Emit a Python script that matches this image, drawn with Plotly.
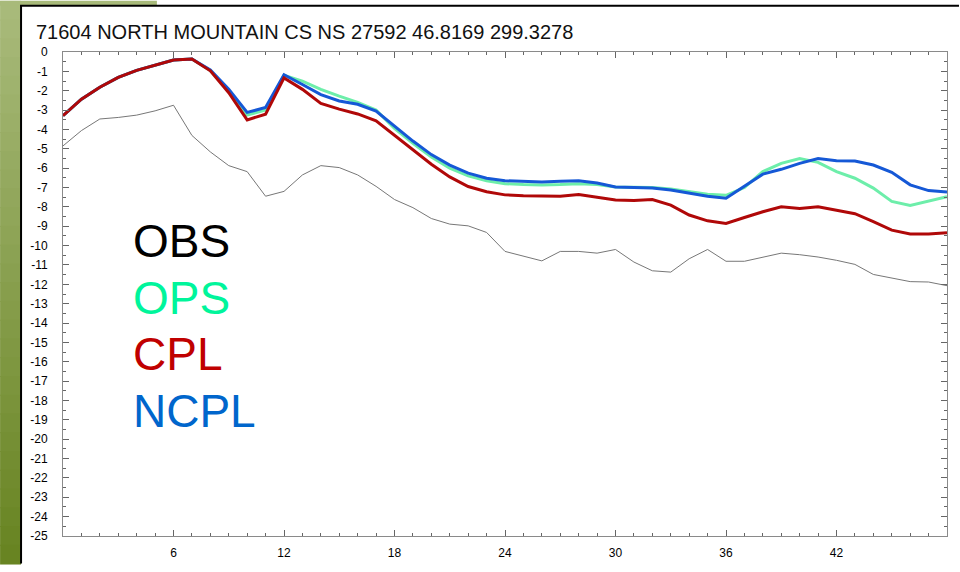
import plotly.graph_objects as go

# ---------------- data ----------------
hours = list(range(0, 49))

obs = [-4.85, -4.06, -3.46, -3.38, -3.26, -3.04, -2.75, -4.31, -5.16, -5.87,
       -6.18, -7.45, -7.20, -6.35, -5.87, -5.97, -6.35, -6.94, -7.62, -8.04,
       -8.60, -8.89, -8.98, -9.32, -10.30, -10.56, -10.79, -10.30, -10.30, -10.39,
       -10.20, -10.85, -11.30, -11.37, -10.68, -10.20, -10.81, -10.81, -10.59, -10.39,
       -10.47, -10.59, -10.76, -10.97, -11.49, -11.69, -11.86, -11.88, -12.07]

ops = [-3.29, -2.44, -1.82, -1.31, -0.95, -0.66, -0.41, -0.36, -0.95, -2.00,
       -3.25, -3.00, -1.20, -1.50, -1.93, -2.28, -2.60, -3.00, -3.95, -4.72,
       -5.42, -6.00, -6.40, -6.65, -6.80, -6.85, -6.87, -6.85, -6.80, -6.85,
       -6.97, -6.98, -7.00, -7.08, -7.20, -7.35, -7.40, -7.00, -6.18, -5.75,
       -5.50, -5.70, -6.18, -6.52, -7.03, -7.72, -7.93, -7.70, -7.48]

cpl = [-3.29, -2.44, -1.82, -1.31, -0.95, -0.66, -0.41, -0.36, -0.97, -2.10,
       -3.51, -3.21, -1.34, -1.93, -2.66, -2.95, -3.20, -3.55, -4.30, -5.02,
       -5.80, -6.45, -6.95, -7.22, -7.38, -7.42, -7.45, -7.45, -7.36, -7.50,
       -7.65, -7.67, -7.62, -7.91, -8.42, -8.72, -8.86, -8.55, -8.25, -8.00,
       -8.08, -8.00, -8.18, -8.35, -8.76, -9.20, -9.40, -9.40, -9.33]

ncpl = [-3.29, -2.44, -1.82, -1.31, -0.95, -0.66, -0.41, -0.36, -0.93, -1.93,
        -3.12, -2.87, -1.17, -1.68, -2.20, -2.53, -2.70, -3.05, -3.85, -4.60,
        -5.30, -5.84, -6.26, -6.52, -6.65, -6.70, -6.72, -6.68, -6.65, -6.77,
        -6.97, -7.00, -7.03, -7.13, -7.28, -7.45, -7.55, -6.94, -6.31, -6.06,
        -5.75, -5.50, -5.62, -5.63, -5.84, -6.21, -6.86, -7.16, -7.23]

series_names = ["OBS", "OPS", "CPL", "NCPL"]
x_tick_vals = [6, 12, 18, 24, 30, 36, 42]
y_tick_vals = list(range(0, -26, -1))
y_tick_text = [str(v) if v == 0 else "-" + str(-v) for v in y_tick_vals]
title_text = "71604 NORTH MOUNTAIN CS NS 27592 46.8169 299.3278"

# ---------------- layout constants ----------------
W, H = 960, 572
ML, MR, MT, MB = 63, 12, 52, 28
PW, PH = W - ML - MR, H - MT - MB
FONT = "Liberation Sans, Arial, Helvetica, sans-serif"


def px_x(p):
    return (p - ML) / PW


def px_y(p):
    return (H - MB - p) / PH


colors = {"OBS": "#777777", "OPS": "#6DEEAA", "CPL": "#B00808", "NCPL": "#1558D6"}
text_colors = {"OBS": "#000000", "OPS": "#00F59B", "CPL": "#C00000", "NCPL": "#0066CC"}
widths = {"OBS": 1, "OPS": 3, "CPL": 3, "NCPL": 3}
values = {"OBS": obs, "OPS": ops, "CPL": cpl, "NCPL": ncpl}

fig = go.Figure()
for name in ["OBS", "OPS", "NCPL", "CPL"]:
    fig.add_trace(go.Scatter(
        x=hours, y=values[name], mode="lines", name=name,
        line=dict(color=colors[name], width=widths[name]),
        showlegend=False, hoverinfo="x+y+name"))

# ---------------- background decoration (slide) ----------------
shapes = []
n_bands = 30
top_rgb = (168, 186, 122)
bot_rgb = (104, 132, 34)
for i in range(n_bands):
    t = i / (n_bands - 1)
    r = round(top_rgb[0] + (bot_rgb[0] - top_rgb[0]) * t)
    g = round(top_rgb[1] + (bot_rgb[1] - top_rgb[1]) * t)
    b = round(top_rgb[2] + (bot_rgb[2] - top_rgb[2]) * t)
    y0p = H * i / n_bands
    y1p = H * (i + 1) / n_bands + 1
    shapes.append(dict(type="rect", xref="paper", yref="paper", layer="below",
                       x0=px_x(0), x1=px_x(21), y0=px_y(y1p), y1=px_y(y0p),
                       line=dict(width=0), fillcolor=f"rgb({r},{g},{b})"))
shapes.append(dict(type="rect", xref="paper", yref="paper", layer="below",
                   x0=px_x(0), x1=px_x(157), y0=px_y(5), y1=px_y(0),
                   line=dict(width=0), fillcolor="rgb(168,186,122)"))
shapes.append(dict(type="line", xref="paper", yref="paper",
                   x0=px_x(21), x1=px_x(21), y0=px_y(H), y1=px_y(5),
                   line=dict(color="black", width=2)))
shapes.append(dict(type="line", xref="paper", yref="paper",
                   x0=px_x(20), x1=px_x(W), y0=px_y(5), y1=px_y(5),
                   line=dict(color="black", width=2)))

# ---------------- legend as coloured words ----------------
annotations = []
leg_y = {"OBS": 244, "OPS": 302, "CPL": 359, "NCPL": 417}
for name in series_names:
    annotations.append(dict(
        text=name, xref="paper", yref="paper", x=px_x(131), y=px_y(leg_y[name]),
        xanchor="left", yanchor="middle", showarrow=False,
        font=dict(family=FONT, size=46, color=text_colors[name])))

axis_col = "#8a8a8a"
fig.update_layout(
    width=W, height=H,
    margin=dict(l=ML, r=MR, t=MT, b=MB, pad=0),
    paper_bgcolor="white", plot_bgcolor="white",
    font=dict(family=FONT, color="black"),
    title=dict(text=title_text, x=36 / W, xanchor="left", y=1 - 32 / H, yanchor="middle",
               font=dict(family=FONT, size=20, color="#111111")),
    shapes=shapes, annotations=annotations,
    xaxis=dict(range=[0, 48], tickmode="array", tickvals=x_tick_vals,
               ticks="inside", ticklen=6, tickcolor="#666666", tickwidth=1,
               showline=True, linecolor=axis_col, linewidth=1, mirror="ticks",
               showgrid=False, zeroline=False,
               tickfont=dict(family=FONT, size=12, color="black"),
               ticklabelstandoff=6,
               minor=dict(dtick=1, tick0=0, ticks="inside", ticklen=3,
                          tickcolor="#666666", showgrid=False)),
    yaxis=dict(range=[-25, 0], tickmode="array", tickvals=y_tick_vals, ticktext=y_tick_text,
               ticks="inside", ticklen=6, tickcolor="#666666", tickwidth=1,
               showline=True, linecolor=axis_col, linewidth=1, mirror="ticks",
               showgrid=False, zeroline=False,
               tickfont=dict(family=FONT, size=12, color="black"),
               ticklabelstandoff=12,
               minor=dict(dtick=0.5, tick0=0, ticks="inside", ticklen=3,
                          tickcolor="#666666", showgrid=False)),
)

fig.write_html("out.html", config={"displayModeBar": False},
               post_script="document.body.style.margin='0';document.body.style.overflow='hidden';")
